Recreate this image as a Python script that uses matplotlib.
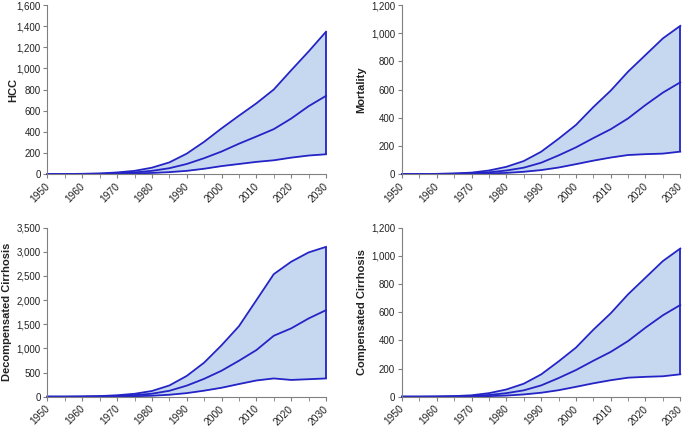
import numpy as np
import matplotlib.pyplot as plt
import matplotlib.transforms as mtransforms
from matplotlib.ticker import FuncFormatter, MultipleLocator

plt.rcParams['font.family'] = ['Liberation Sans', 'DejaVu Sans']

years = [1950, 1955, 1960, 1965, 1970, 1975, 1980, 1985, 1990,
         1995, 2000, 2005, 2010, 2015, 2020, 2025, 2030]

# HCC
hcc_low = [0, 0, 0, 1, 3, 6, 10, 18, 30, 50, 75, 95, 115, 130, 155, 175, 187]
hcc_mid = [0, 0, 1, 3, 8, 15, 30, 55, 95, 150, 213, 287, 355, 425, 525, 642, 740]
hcc_high = [0, 0, 2, 5, 15, 30, 60, 110, 193, 305, 432, 552, 669, 800, 982, 1160, 1347]

# Mortality
mort_low = [0, 0, 0, 1, 2, 4, 8, 16, 28, 46, 70, 95, 117, 135, 141, 145, 159]
mort_mid = [0, 0, 1, 2, 5, 12, 25, 45, 80, 132, 189, 255, 318, 395, 490, 578, 651]
mort_high = [0, 0, 1, 4, 10, 25, 51, 92, 158, 250, 348, 475, 592, 727, 845, 963, 1052]

# Decompensated cirrhosis
dec_low = [0, 0, 0, 2, 5, 10, 20, 40, 74, 125, 185, 262, 336, 378, 347, 362, 378]
dec_mid = [0, 0, 2, 6, 15, 32, 62, 122, 229, 370, 538, 745, 965, 1262, 1415, 1620, 1792]
dec_high = [0, 0, 4, 12, 30, 60, 118, 232, 430, 705, 1065, 1460, 1998, 2538, 2795, 2988, 3103]

# Compensated cirrhosis
comp_low = [0, 0, 0, 1, 2, 4, 8, 16, 28, 46, 70, 95, 117, 135, 141, 145, 159]
comp_mid = [0, 0, 1, 2, 5, 12, 25, 45, 80, 132, 189, 255, 318, 395, 490, 578, 651]
comp_high = [0, 0, 1, 4, 10, 25, 51, 92, 158, 250, 348, 475, 592, 727, 845, 963, 1052]

panels = [
    ('HCC', hcc_low, hcc_mid, hcc_high, 1600, 200),
    ('Mortality', mort_low, mort_mid, mort_high, 1200, 200),
    ('Decompensated Cirrhosis', dec_low, dec_mid, dec_high, 3500, 500),
    ('Compensated Cirrhosis', comp_low, comp_mid, comp_high, 1200, 200),
]

positions = [
    [0.0695, 0.5915, 0.4078, 0.3967],
    [0.5885, 0.5915, 0.4075, 0.3967],
    [0.0695, 0.0688, 0.4078, 0.3967],
    [0.5885, 0.0688, 0.4075, 0.3967],
]
label_pads = [-1.5, 3, 3, 3]

line_c = '#2424c6'
fill_c = '#c6d8f0'

fig = plt.figure(figsize=(6.83, 4.26), dpi=100)
shift = mtransforms.ScaledTranslation(-2 / 72, 0, fig.dpi_scale_trans)

for (label, lo, mid, hi, ymax, step), pos, lp in zip(panels, positions, label_pads):
    ax = fig.add_axes(pos)
    ax.fill_between(years, lo, hi, color=fill_c, lw=0)
    for s in (lo, mid, hi):
        ax.plot(years, s, color=line_c, lw=1.3, clip_on=False)
    ax.vlines(years[-1], lo[-1], hi[-1], color=line_c, lw=1.3, clip_on=False)

    ax.set_xlim(1950, 2030)
    ax.set_ylim(0, ymax)
    ax.xaxis.set_major_locator(MultipleLocator(10))
    ax.xaxis.set_minor_locator(MultipleLocator(5))
    ax.yaxis.set_major_locator(MultipleLocator(step))
    ax.yaxis.set_major_formatter(FuncFormatter(lambda v, p: f'{int(v):,}'))

    for s in ['top', 'right']:
        ax.spines[s].set_visible(False)
    for s in ['left', 'bottom']:
        ax.spines[s].set_color('#808080')
        ax.spines[s].set_linewidth(0.8)

    ax.tick_params(axis='both', which='both', direction='out', color='#808080',
                   labelsize=7, labelcolor='#222222', pad=2)
    ax.tick_params(axis='x', labelsize=7.4)
    ax.tick_params(axis='both', which='major', length=3)
    ax.tick_params(axis='x', which='minor', length=3)
    for t in ax.get_xticklabels():
        t.set_rotation(45)
        t.set_ha('right')
        t.set_rotation_mode('anchor')
        t.set_transform(t.get_transform() + shift)

    ax.set_ylabel(label, fontsize=8, fontweight='bold', color='#222222', labelpad=lp)

fig.savefig('out.png', dpi=100)
